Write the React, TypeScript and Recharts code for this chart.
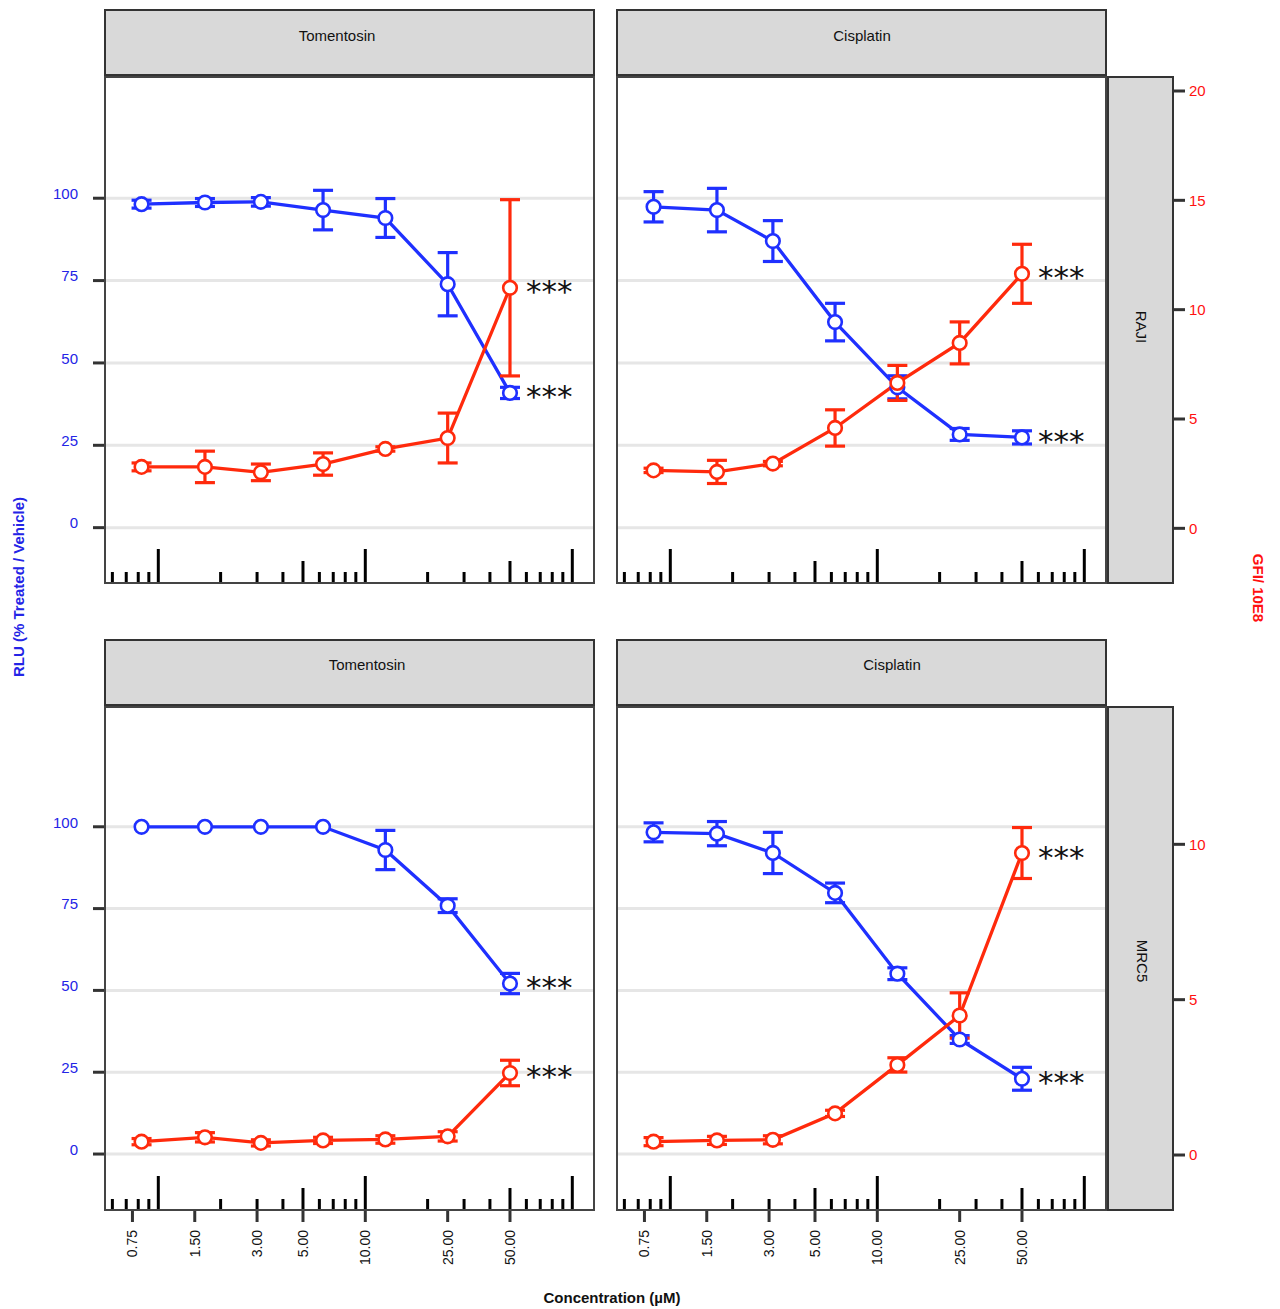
import React from 'react';
import { ComposedChart, Line, Scatter, XAxis, YAxis, CartesianGrid, ErrorBar } from 'recharts';

// concentrations (µM), log x axis
const conc = [0.83, 1.68, 3.13, 6.25, 12.5, 25, 50];
const xTicks = [0.75, 1.5, 3, 5, 10, 25, 50];
const rluTicks = [0, 25, 50, 75, 100];
const gfiTicksTop = [0, 5, 10, 15, 20];
const gfiTicksBottom = [0, 5, 10];
const sig = ['', '', '', '', '', '', '***'];

// log tick rug along the bottom of every panel (1 short, 2 mid, 3 long)
const rugValues = [0.6, 0.7, 0.8, 0.9, 1, 2, 3, 4, 5, 6, 7, 8, 9, 10, 20, 30, 40, 50, 60, 70, 80, 90, 100];
const rugKinds = [1, 1, 1, 1, 3, 1, 1, 1, 2, 1, 1, 1, 1, 3, 1, 1, 1, 2, 1, 1, 1, 1, 3];

// RAJI - Tomentosin
const rajiTomRlu = [98.2, 98.7, 98.9, 96.4, 94.0, 73.9, 40.9];
const rajiTomRluErr = [1.2, 1.2, 1.3, 6.0, 5.9, 9.6, 1.7];
const rajiTomGfi = [2.81, 2.81, 2.56, 2.94, 3.63, 4.13, 11.0];
const rajiTomGfiErr = [0.18, 0.72, 0.38, 0.51, 0.1, 1.14, 4.03];

// RAJI - Cisplatin
const rajiCisRlu = [97.4, 96.4, 87.0, 62.4, 42.6, 28.3, 27.4];
const rajiCisRluErr = [4.6, 6.6, 6.2, 5.7, 3.5, 1.8, 2.0];
const rajiCisGfi = [2.65, 2.58, 2.96, 4.59, 6.65, 8.48, 11.64];
const rajiCisGfiErr = [0.1, 0.53, 0.1, 0.83, 0.8, 0.96, 1.35];

// MRC5 - Tomentosin
const mrcTomRlu = [100, 100, 100, 100, 92.9, 75.9, 52.1];
const mrcTomRluErr = [0, 0, 0, 0, 6.0, 2.1, 3.1];
const mrcTomGfi = [0.43, 0.57, 0.39, 0.47, 0.5, 0.6, 2.64];
const mrcTomGfiErr = [0.1, 0.15, 0.1, 0.1, 0.12, 0.15, 0.41];

// MRC5 - Cisplatin
const mrcCisRlu = [98.3, 97.9, 92.0, 79.8, 55.1, 35.0, 23.0];
const mrcCisRluErr = [2.9, 3.7, 6.3, 3.0, 1.8, 1.2, 3.5];
const mrcCisGfi = [0.43, 0.47, 0.49, 1.34, 2.9, 4.49, 9.72];
const mrcCisGfiErr = [0.13, 0.13, 0.13, 0.1, 0.23, 0.73, 0.82];

const BLUE = '#1f30ff';
const RED = '#ff2a0c';
const BLUE_TXT = '#2424e6';
const RED_TXT = '#ff1010';
const FONT = '"Liberation Sans", Arial, sans-serif';
const xDomain = [0.5527, 127.3];

const LeftTick = (p: any) => (
  <text x={p.x} y={p.y - 4.5} dy="0.35em" textAnchor="end" fill={BLUE_TXT} fontSize={15} fontFamily={FONT}>
    {p.payload.value}
  </text>
);

// right axis sits outside the row strip
const RightTick = (p: any) => (
  <g>
    <line x1={p.x + 67} x2={p.x + 79} y1={p.y} y2={p.y} stroke="#333" strokeWidth={3} />
    <text x={p.x + 83} y={p.y} dy="0.35em" textAnchor="start" fill={RED_TXT} fontSize={15} fontFamily={FONT}>
      {p.payload.value}
    </text>
  </g>
);

const XTick = (p: any) => (
  <text
    x={p.x}
    y={p.y}
    dy="0.35em"
    textAnchor="end"
    transform={`rotate(-90 ${p.x} ${p.y})`}
    fill="#111"
    fontSize={14}
    fontFamily={FONT}
  >
    {Number(p.payload.value).toFixed(2)}
  </text>
);

const RugMark = (p: any) => {
  const len = [0, 11, 22, 34][p.payload.kind];
  return <line x1={p.cx} x2={p.cx} y1={p.cy} y2={p.cy - len} stroke="#000" strokeWidth={3} />;
};

const makeDot = (color: string) => (p: any) => (
  <g key={`dot-${color}-${p.index}`}>
    <circle cx={p.cx} cy={p.cy} r={6.8} fill="#fff" stroke={color} strokeWidth={2.6} />
    {p.payload.sig ? (
      <text x={p.cx + 16} y={p.cy + 14.5} fontSize={31} fontFamily='"DejaVu Sans", sans-serif' fill="#111">
        {p.payload.sig}
      </text>
    ) : null}
  </g>
);

function Panel(props: any) {
  const { rlu, rluErr, gfi, gfiErr, left, top, width, height, margin, lDomain, rDomain, rTicks, showLeft, showRight, showX } = props;
  const data = conc.map((c, i) => ({ conc: c, rlu: rlu[i], rluErr: rluErr[i], gfi: gfi[i], gfiErr: gfiErr[i], sig: sig[i] }));
  const rug = rugValues.map((v, i) => ({ conc: v, base: lDomain[0], kind: rugKinds[i] }));
  return (
    <div style={{ position: 'absolute', left, top }}>
      <ComposedChart width={width} height={height} data={data} margin={margin}>
        <CartesianGrid yAxisId="l" vertical={false} horizontalValues={rluTicks} stroke="#e6e6e6" strokeWidth={3} />
        <XAxis
          dataKey="conc"
          type="number"
          scale="log"
          domain={xDomain}
          allowDataOverflow
          ticks={xTicks}
          interval={0}
          hide={!showX}
          height={70}
          tick={XTick}
          tickSize={12}
          tickMargin={8}
          tickLine={{ stroke: '#333', strokeWidth: 3 }}
          axisLine={false}
        />
        <YAxis
          yAxisId="l"
          type="number"
          domain={lDomain}
          allowDataOverflow
          ticks={rluTicks}
          interval={0}
          hide={!showLeft}
          width={105}
          tick={LeftTick}
          tickSize={12}
          tickMargin={15}
          tickLine={{ stroke: '#333', strokeWidth: 3 }}
          axisLine={false}
        />
        <YAxis
          yAxisId="r"
          orientation="right"
          type="number"
          domain={rDomain}
          allowDataOverflow
          ticks={rTicks}
          interval={0}
          hide={!showRight}
          width={174}
          tick={RightTick}
          tickSize={0}
          tickMargin={0}
          tickLine={false}
          axisLine={false}
        />
        <Scatter data={rug} dataKey="base" yAxisId="l" shape={RugMark} isAnimationActive={false} />
        <Line yAxisId="l" type="linear" dataKey="rlu" stroke={BLUE} strokeWidth={3.3} dot={makeDot(BLUE)} activeDot={false} isAnimationActive={false}>
          <ErrorBar dataKey="rluErr" width={10} stroke={BLUE} strokeWidth={3.2} direction="y" />
        </Line>
        <Line yAxisId="r" type="linear" dataKey="gfi" stroke={RED} strokeWidth={3.3} dot={makeDot(RED)} activeDot={false} isAnimationActive={false}>
          <ErrorBar dataKey="gfiErr" width={10} stroke={RED} strokeWidth={3.2} direction="y" />
        </Line>
      </ComposedChart>
    </div>
  );
}

const stripStyle: React.CSSProperties = {
  position: 'absolute',
  boxSizing: 'border-box',
  background: '#d9d9d9',
  border: '2px solid #333',
};
const frameStyle: React.CSSProperties = {
  position: 'absolute',
  boxSizing: 'border-box',
  border: '2px solid #444',
  pointerEvents: 'none',
};
const centered = (x: number, y: number, extra: React.CSSProperties = {}): React.CSSProperties => ({
  position: 'absolute',
  left: x,
  top: y,
  transform: 'translate(-50%, -50%)',
  whiteSpace: 'nowrap',
  ...extra,
});

export default function App() {
  return (
    <div style={{ position: 'absolute', left: 0, top: 0, width: 1280, height: 1309, background: '#fff', fontFamily: FONT, overflow: 'hidden' }}>
      <Panel
        rlu={rajiTomRlu} rluErr={rajiTomRluErr} gfi={rajiTomGfi} gfiErr={rajiTomGfiErr}
        left={0} top={67} width={604} height={526}
        margin={{ top: 10, right: 10, bottom: 10, left: 0 }}
        lDomain={[-16.8, 136.8]} rDomain={[-2.5, 20.64]} rTicks={gfiTicksTop}
        showLeft showRight={false} showX={false}
      />
      <Panel
        rlu={rajiCisRlu} rluErr={rajiCisRluErr} gfi={rajiCisGfi} gfiErr={rajiCisGfiErr}
        left={607} top={67} width={673} height={526}
        margin={{ top: 10, right: 0, bottom: 10, left: 10 }}
        lDomain={[-16.8, 136.8]} rDomain={[-2.5, 20.64]} rTicks={gfiTicksTop}
        showLeft={false} showRight showX={false}
      />
      <Panel
        rlu={mrcTomRlu} rluErr={mrcTomRluErr} gfi={mrcTomGfi} gfiErr={mrcTomGfiErr}
        left={0} top={697} width={604} height={583}
        margin={{ top: 10, right: 10, bottom: 0, left: 0 }}
        lDomain={[-17.1, 136.6]} rDomain={[-1.77, 14.42]} rTicks={gfiTicksBottom}
        showLeft showRight={false} showX
      />
      <Panel
        rlu={mrcCisRlu} rluErr={mrcCisRluErr} gfi={mrcCisGfi} gfiErr={mrcCisGfiErr}
        left={607} top={697} width={673} height={583}
        margin={{ top: 10, right: 0, bottom: 0, left: 10 }}
        lDomain={[-17.1, 136.6]} rDomain={[-1.77, 14.42]} rTicks={gfiTicksBottom}
        showLeft={false} showRight showX
      />

      {/* panel frames */}
      <div style={{ ...frameStyle, left: 104, top: 76, width: 491, height: 508 }} />
      <div style={{ ...frameStyle, left: 616, top: 76, width: 491, height: 508 }} />
      <div style={{ ...frameStyle, left: 104, top: 706, width: 491, height: 505 }} />
      <div style={{ ...frameStyle, left: 616, top: 706, width: 491, height: 505 }} />

      {/* column strips */}
      <div style={{ ...stripStyle, left: 104, top: 9, width: 491, height: 67 }} />
      <div style={{ ...stripStyle, left: 616, top: 9, width: 491, height: 67 }} />
      <div style={{ ...stripStyle, left: 104, top: 639, width: 491, height: 67 }} />
      <div style={{ ...stripStyle, left: 616, top: 639, width: 491, height: 67 }} />
      <div style={centered(337, 35, { fontSize: 15, color: '#111' })}>Tomentosin</div>
      <div style={centered(862, 35, { fontSize: 15, color: '#111' })}>Cisplatin</div>
      <div style={centered(367, 664, { fontSize: 15, color: '#111' })}>Tomentosin</div>
      <div style={centered(892, 664, { fontSize: 15, color: '#111' })}>Cisplatin</div>

      {/* row strips */}
      <div style={{ ...stripStyle, left: 1107, top: 76, width: 67, height: 508 }} />
      <div style={{ ...stripStyle, left: 1107, top: 706, width: 67, height: 505 }} />
      <div style={centered(1141, 327, { fontSize: 15, color: '#111', transform: 'translate(-50%, -50%) rotate(90deg)' })}>RAJI</div>
      <div style={centered(1142, 961, { fontSize: 15, color: '#111', transform: 'translate(-50%, -50%) rotate(90deg)' })}>MRC5</div>

      {/* axis titles */}
      <div style={centered(18, 587, { fontSize: 15, fontWeight: 'bold', color: BLUE_TXT, transform: 'translate(-50%, -50%) rotate(-90deg)' })}>
        RLU (% Treated / Vehicle)
      </div>
      <div style={centered(1258, 588, { fontSize: 15, fontWeight: 'bold', color: RED_TXT, transform: 'translate(-50%, -50%) rotate(90deg)' })}>
        GFI/ 10E8
      </div>
      <div style={centered(612, 1297, { fontSize: 15, fontWeight: 'bold', color: '#111' })}>Concentration (µM)</div>
    </div>
  );
}
